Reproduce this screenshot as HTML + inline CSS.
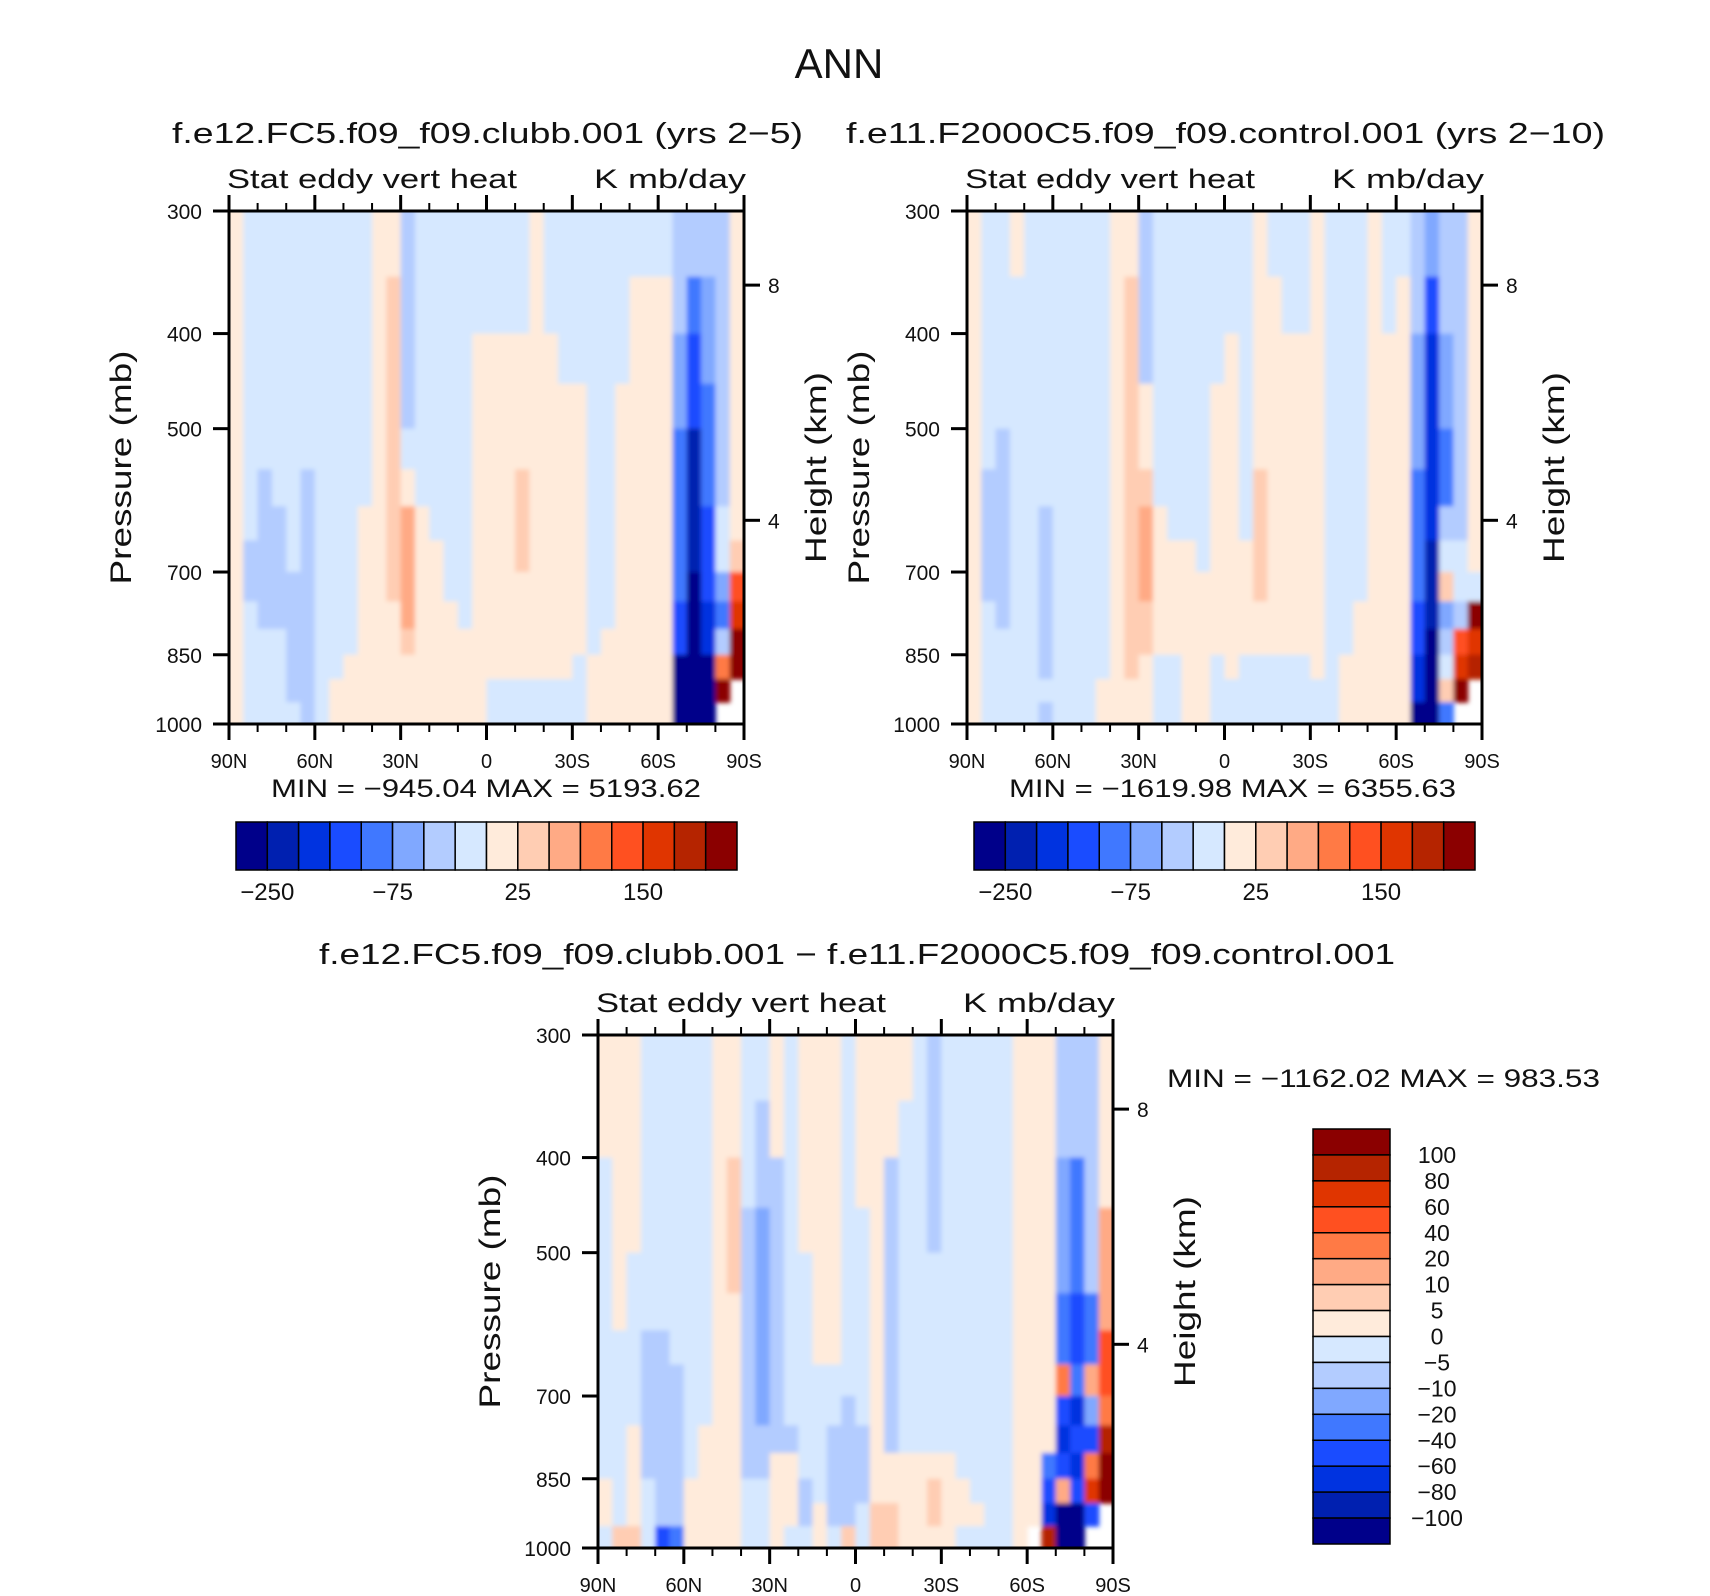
<!DOCTYPE html>
<html><head><meta charset="utf-8"><style>
html,body{margin:0;padding:0;background:#fff;}
svg{display:block;font-family:"Liberation Sans",sans-serif;}
</style></head><body>
<svg id="fig" width="1710" height="1596" viewBox="0 0 1710 1596" xmlns="http://www.w3.org/2000/svg">
<defs><filter id="soft" x="-2%" y="-2%" width="104%" height="104%"><feGaussianBlur stdDeviation="2.5"/></filter></defs>
<rect x="0" y="0" width="1710" height="1596" fill="#fff"/>
<text x="839" y="78" font-size="42" text-anchor="middle" fill="#111">ANN</text>
<text x="172" y="143" font-size="29" textLength="631" lengthAdjust="spacingAndGlyphs" fill="#111">f.e12.FC5.f09_f09.clubb.001 (yrs 2−5)</text>
<text x="846" y="143" font-size="29" textLength="759" lengthAdjust="spacingAndGlyphs" fill="#111">f.e11.F2000C5.f09_f09.control.001 (yrs 2−10)</text>
<text x="319" y="964" font-size="29" textLength="1076" lengthAdjust="spacingAndGlyphs" fill="#111">f.e12.FC5.f09_f09.clubb.001 − f.e11.F2000C5.f09_f09.control.001</text>
<g id="plots"></g>
</svg>
<script>
// ---- data ----
const latTicks = ["90N","60N","30N","0","30S","60S","90S"];
const pressureTicks = [300,400,500,700,850,1000];
const pressureEdges = [300,350,400,450,500,550,600,650,700,750,800,850,900,950,1000];
const heightTicks = [8,4];
const heightPressures = [357,620];
const levelsAbs = [-250,-200,-150,-100,-75,-50,-25,0,25,50,75,100,150,200,250];
const levelsDiff = [-100,-80,-60,-40,-20,-10,-5,0,5,10,20,40,60,80,100];
const absLabels = ["−250","−75","25","150"];
const absLabelIdx = [0,4,8,12];
const diffLabels = ["100","80","60","40","20","10","5","0","−5","−10","−20","−40","−60","−80","−100"];
const palette = ["#00008a","#0020b0","#0033e0","#1a4cff","#4078ff","#80a8ff","#b3ccff","#d6e8ff","#ffebdb","#ffcdb3","#ffaa85","#ff7a45","#ff5020","#e03500","#b52400","#8b0000"];
const r = (v,n)=>Array(n).fill(v);
// columns 90N->90S (5 deg each), values top (300mb) -> bottom (1000mb)
const clubbCols = [
 r(10,14),
 [-10,-10,-10,-10,-10,-10,-10,-40,-40,-10,-10,-10,-10,-10],
 [...r(-10,5),...r(-40,5),...r(-10,4)],
 [...r(-10,6),...r(-40,4),...r(-10,4)],
 [...r(-10,8),...r(-40,5),-10],
 [...r(-10,5),...r(-40,9)],
 r(-10,14),
 [...r(-10,12),10,10],
 [...r(-10,11),10,10,10],
 [...r(-10,6),...r(10,8)],
 r(10,14),
 [10,40,40,40,40,40,40,40,40,10,10,10,10,10],
 [-40,-40,-40,-40,-10,10,60,60,60,60,40,10,10,10],
 [...r(-10,6),...r(10,8)],
 [...r(-10,7),...r(10,7)],
 [...r(-10,9),...r(10,5)],
 [...r(-10,10),...r(10,4)],
 [-10,-10,...r(10,12)],
 [-10,-10,...r(10,10),-10,-10],
 [-10,-10,...r(10,10),-10,-10],
 [-10,-10,10,10,10,40,40,40,10,10,10,10,-10,-10],
 [...r(10,12),-10,-10],
 [-10,-10,...r(10,10),-10,-10],
 [-10,-10,-10,...r(10,9),-10,-10],
 [-10,-10,-10,...r(10,8),-10,-10,-10],
 [...r(-10,11),10,10,10],
 [...r(-10,10),...r(10,4)],
 [...r(-10,3),...r(10,11)],
 [-10,...r(10,13)],
 [-10,...r(10,13)],
 [-10,...r(10,13)],
 [-40,-40,-60,-60,-90,-90,-90,-90,-90,-120,-120,-300,-300,-300],
 [-40,-90,-120,-120,-220,-220,-220,-220,-300,-300,-300,-300,-300,-300],
 [-40,-60,-60,-90,-90,-90,-120,-120,-120,-170,-170,-300,-300,-300],
 [...r(-40,6),-10,-10,-60,-90,-40,90,300,null],
 [10,10,10,10,10,10,10,40,120,200,300,300,null,null]
];
const controlCols = [
 r(10,14),
 [...r(-10,5),-40,-40,-40,-40,...r(-10,5)],
 [...r(-10,4),...r(-40,6),...r(-10,4)],
 [10,...r(-10,13)],
 r(-10,14),
 [...r(-10,6),...r(-40,6),-10,-40],
 r(-10,14),
 r(-10,14),
 r(-10,14),
 [...r(-10,12),10,10],
 r(10,14),
 [10,40,40,40,40,40,40,40,40,40,40,40,10,10],
 [-40,-40,-40,10,10,40,60,60,60,40,40,10,10,10],
 [...r(-10,6),...r(10,5),-10,-10,-10],
 [...r(-10,7),...r(10,4),-10,-10,-10],
 [...r(-10,7),...r(10,7)],
 [...r(-10,8),...r(10,6)],
 [-10,-10,-10,...r(10,8),-10,-10,-10],
 [-10,-10,...r(10,10),-10,-10],
 [...r(-10,7),...r(10,4),-10,-10,-10],
 [10,10,10,10,10,40,40,40,40,10,10,-10,-10,-10],
 [-10,...r(10,10),-10,-10,-10],
 [-10,-10,...r(10,9),-10,-10,-10],
 [-10,-10,...r(10,9),-10,-10,-10],
 [...r(10,12),-10,-10],
 r(-10,14),
 [...r(-10,11),10,10,10],
 [...r(-10,9),...r(10,5)],
 r(10,14),
 [-10,-10,...r(10,12)],
 [-10,...r(10,13)],
 [-40,-40,-60,-60,-60,-90,-90,-90,-90,-120,-120,-170,-170,-300],
 [-60,-120,-170,-170,-170,-170,-170,-220,-220,-220,-300,-300,-300,-300],
 [-40,-40,-60,-60,-90,-90,-40,-10,40,-60,-40,-10,40,-90],
 [...r(-40,7),-10,-10,-40,120,200,300,null],
 [...r(10,8),-10,300,200,250,null,null]
];
const diffCols = [
 [2,2,...r(-2,9),2,2,-2],
 [...r(2,6),...r(-2,7),7],
 [2,2,2,2,-2,-2,-2,-2,-2,2,2,2,2,7],
 [...r(-2,6),...r(-7,5),-2,-2,-2],
 [...r(-2,6),...r(-7,7),-50],
 [...r(-2,7),...r(-7,6),-30],
 [...r(-2,11),2,2,2],
 [...r(-2,9),...r(2,5)],
 r(2,14),
 [2,2,7,7,7,...r(2,9)],
 [-2,-2,-2,...r(-7,8),-2,-2,-2],
 [-2,-7,-7,-15,-15,-15,-15,-15,-15,-7,-7,-2,-2,-2],
 [2,2,...r(-7,8),2,2,2,2],
 [...r(-2,9),-7,2,2,2,-2],
 [2,2,2,2,...r(-2,7),-7,-7,-2],
 [...r(2,7),...r(-2,5),2,2],
 [...r(2,7),-2,-2,-7,-7,-7,-7,-2],
 [...r(-2,8),...r(-7,5),7],
 [2,2,2,...r(-2,6),-7,-7,-7,-2,-2],
 [...r(2,12),7,7],
 [2,2,...r(-7,8),2,2,7,7],
 [2,...r(-2,9),2,2,2,2],
 [...r(-2,10),2,2,2,2],
 [-7,-7,-7,-7,...r(-2,6),2,7,7,2],
 [...r(-2,10),2,2,2,2],
 [...r(-2,11),2,2,-2],
 [...r(-2,12),2,-2],
 r(-2,14),
 r(-2,14),
 r(2,14),
 [...r(2,13),null],
 [...r(2,10),-30,-50,-70,90],
 [-7,-7,-15,-15,-15,-30,-30,30,-50,-70,-50,15,-120,-120],
 [-7,-7,-30,-30,-30,-50,-50,-30,-70,-50,-70,-50,-120,-120],
 [-7,-7,-7,-7,-7,-30,-30,15,-15,-50,30,70,-50,null],
 [2,2,2,15,15,15,50,50,30,90,150,150,null,null]
];
const panelNames = ["clubb","control","diff"];
const panelCols = [clubbCols, controlCols, diffCols];
const panelLevels = [levelsAbs, levelsAbs, levelsDiff];
const minMaxText = ["MIN  =  −945.04   MAX  =  5193.62","MIN  =  −1619.98   MAX  =  6355.63","MIN  =  −1162.02   MAX  =  983.53"];

// ---- layout ----
const NS="http://www.w3.org/2000/svg";
const root=document.getElementById('plots');
const defs=document.querySelector('defs');
function mk(tag, attrs, parent){const e=document.createElementNS(NS,tag);for(const k in attrs)e.setAttribute(k,attrs[k]);(parent||root).appendChild(e);return e;}
const PW=515, PH=513;
const origins=[[229,211],[967,211],[598,1035]];
function colorFor(v,levels){let i=0;for(const l of levels){if(v>l)i++;}return palette[i];}

panelNames.forEach((name,pi)=>{
  const [x0,y0]=origins[pi];
  const g=mk('g',{});
  
  
  const xScale=lat=>x0+(90-lat)/180*PW;
  const yScale=p=>y0+Math.log(p/300)/Math.log(1000/300)*PH;
  const cols=panelCols[pi], levels=panelLevels[pi];
  const nC=cols.length;
  const cp=mk('clipPath',{id:'clip'+pi},defs);
  mk('rect',{x:x0,y:y0,width:PW,height:PH},cp);
  const clipG=mk('g',{'clip-path':`url(#clip${pi})`},g);
  mk('rect',{x:x0,y:y0,width:PW,height:PH,fill:'#fff'},clipG);
  const fieldG=mk('g',{filter:'url(#soft)'},clipG);
  
  
  cols.forEach((col,ci)=>{
    const latA=90-ci*180/nC, latB=90-(ci+1)*180/nC;
    col.forEach((v,ri)=>{
      if(v===null||v===undefined)return;
      const xa=xScale(latA), xb=xScale(latB);
      let ya=yScale(pressureEdges[ri]), yb=yScale(pressureEdges[ri+1]);
      if(ri===0) ya-=6;
      if(ri===col.length-1) yb+=6;
      let xa2=xa, xb2=xb;
      if(ci===0) xa2-=6;
      if(ci===nC-1) xb2+=6;
      const c=mk('rect',{x:xa2,y:ya,width:xb2-xa2+0.6,height:yb-ya+0.6,fill:colorFor(v,levels)},fieldG);
      
      
    });
  });
  const fr=mk('rect',{x:x0,y:y0,width:PW,height:PH,fill:'none',stroke:'#000','stroke-width':3},g);
  
  
  for(let lat=90;lat>=-90;lat-=10){
    const x=xScale(lat), major=(lat%30===0);
    const L=major?16:8;
    mk('line',{x1:x,y1:y0,x2:x,y2:y0-L,stroke:'#000','stroke-width':major?3:2},g);
    mk('line',{x1:x,y1:y0+PH,x2:x,y2:y0+PH+L,stroke:'#000','stroke-width':major?3:2},g);
  }
  latTicks.forEach((t,i)=>{
    const lat=90-i*30;
    const tx=mk('text',{x:xScale(lat),y:y0+PH+44,'font-size':20,'text-anchor':'middle',fill:'#111'},g);
    tx.textContent=t;
    
    
  });
  pressureTicks.forEach(p=>{
    const y=yScale(p);
    mk('line',{x1:x0-16,y1:y,x2:x0,y2:y,stroke:'#000','stroke-width':3},g);
    const tx=mk('text',{x:x0-27,y:y+8,'font-size':21,'text-anchor':'end',fill:'#111'},g);
    tx.textContent=p;
    
    
  });
  heightTicks.forEach((h,i)=>{
    const y=yScale(heightPressures[i]);
    mk('line',{x1:x0+PW,y1:y,x2:x0+PW+16,y2:y,stroke:'#000','stroke-width':3},g);
    const tx=mk('text',{x:x0+PW+24,y:y+8,'font-size':21,fill:'#111'},g);
    tx.textContent=h;
    
    
  });
  const s1=mk('text',{x:x0-2,y:y0-23,'font-size':27,textLength:290,lengthAdjust:'spacingAndGlyphs',fill:'#111'},g);
  s1.textContent='Stat eddy vert heat';
  
  
  const s2=mk('text',{x:x0+365,y:y0-23,'font-size':27,textLength:152,lengthAdjust:'spacingAndGlyphs',fill:'#111'},g);
  s2.textContent='K mb/day';
  
  
  const cy=y0+PH/2;
  const yl=mk('text',{x:0,y:0,'font-size':30,'text-anchor':'middle',textLength:234,lengthAdjust:'spacingAndGlyphs',fill:'#111',transform:`translate(${x0-98},${cy}) rotate(-90)`},g);
  yl.textContent='Pressure (mb)';
  
  
  const hl=mk('text',{x:0,y:0,'font-size':30,'text-anchor':'middle',textLength:191,lengthAdjust:'spacingAndGlyphs',fill:'#111',transform:`translate(${x0+PW+82},${cy}) rotate(-90)`},g);
  hl.textContent='Height (km)';
  
  
  if(pi<2){
    const mm=mk('text',{x:x0+42,y:797,'font-size':25,textLength:pi===0?430:447,lengthAdjust:'spacingAndGlyphs',fill:'#111'},g);
    mm.textContent=minMaxText[pi];
    
    
    const bx=x0+7, bw=501/16, by=822, bh=48;
    const cb=mk('g',{},g);
    
    
    palette.forEach((c,i)=>{
      const b=mk('rect',{x:bx+i*bw,y:by,width:bw,height:bh,fill:c,stroke:'#000','stroke-width':1.5},cb);
      
      
    });
    absLabels.forEach((t,i)=>{
      const tx=mk('text',{x:bx+(absLabelIdx[i]+1)*bw,y:900,'font-size':24,'text-anchor':'middle',fill:'#111'},cb);
      tx.textContent=t;
      
      
    });
  } else {
    const mm=mk('text',{x:1167,y:1087,'font-size':25,textLength:433,lengthAdjust:'spacingAndGlyphs',fill:'#111'},g);
    mm.textContent=minMaxText[pi];
    
    
    const bx=1313, bw=77, by=1129, bh=415/16;
    const cb=mk('g',{},g);
    
    
    palette.slice().reverse().forEach((c,i)=>{
      const b=mk('rect',{x:bx,y:by+i*bh,width:bw,height:bh,fill:c,stroke:'#000','stroke-width':1.5},cb);
      
      
    });
    diffLabels.forEach((t,i)=>{
      const tx=mk('text',{x:1437,y:by+(i+1)*bh+8,'font-size':23,'text-anchor':'middle',fill:'#111'},cb);
      tx.textContent=t;
      
      
    });
  }
});
</script>
</body></html>
